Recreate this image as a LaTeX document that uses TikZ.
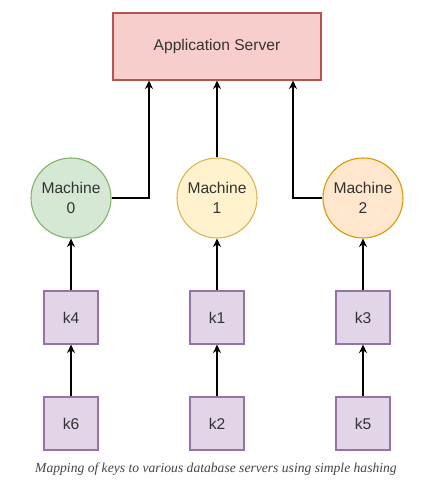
\documentclass[tikz,border=0pt]{standalone}
\usepackage{fontspec}
\setmainfont{Liberation Sans}
\newfontfamily\captionfont{Liberation Serif}
\usepackage{xcolor}
\usetikzlibrary{arrows.meta,positioning}
\definecolor{serverFill}{HTML}{F8CECC}
\definecolor{serverLine}{HTML}{B85450}
\definecolor{greenFill}{HTML}{D5E8D4}
\definecolor{greenLine}{HTML}{82B366}
\definecolor{yellowFill}{HTML}{FFF2CC}
\definecolor{yellowLine}{HTML}{D6B656}
\definecolor{orangeFill}{HTML}{FFE6CC}
\definecolor{orangeLine}{HTML}{D79B00}
\definecolor{keyFill}{HTML}{E1D5E7}
\definecolor{keyLine}{HTML}{9673A6}
\definecolor{textGray}{HTML}{333333}
\definecolor{captionGray}{HTML}{444444}

\begin{document}
\begin{tikzpicture}[
    x=1pt, y=-1pt,
    every node/.style={font=\fontsize{15.6}{19.5}\selectfont, text=textGray},
    server/.style={rectangle, draw=serverLine, fill=serverFill, line width=1.1pt,
        minimum width=208pt, minimum height=67pt},
    machine/.style={circle, line width=1.1pt, minimum size=80pt, align=center, inner sep=0pt},
    keybox/.style={rectangle, draw=keyLine, fill=keyFill, line width=1.1pt,
        minimum width=54pt, minimum height=53pt},
    arrow/.style={-{Stealth[length=8.5pt, width=8pt]}, line width=1.2pt, black},
    ]
    \useasboundingbox (0,0) rectangle (420,489);
    % Server
    \node[server] (server) at (217,46.5) {Application Server};
    % Machines
    \node[machine, draw=greenLine,  fill=greenFill]  (m0) at (71,198)  {Machine\\0};
    \node[machine, draw=yellowLine, fill=yellowFill] (m1) at (217,198) {Machine\\1};
    \node[machine, draw=orangeLine, fill=orangeFill] (m2) at (363,198) {Machine\\2};
    % Keys
    \node[keybox] (k4) at (71,317.5)  {k4};
    \node[keybox] (k1) at (217,317.5) {k1};
    \node[keybox] (k3) at (363,317.5) {k3};
    \node[keybox] (k6) at (71,423.5)  {k6};
    \node[keybox] (k2) at (217,423.5) {k2};
    \node[keybox] (k5) at (363,423.5) {k5};
    % Arrows
    \draw[arrow] (k6) -- (k4);
    \draw[arrow] (k2) -- (k1);
    \draw[arrow] (k5) -- (k3);
    \draw[arrow] (k4) -- (m0);
    \draw[arrow] (k1) -- (m1);
    \draw[arrow] (k3) -- (m2);
    \draw[arrow] (m1) -- (server);
    \draw[arrow] (m0.east) -| ([xshift=-68pt]server.south);
    \draw[arrow] (m2.west) -| ([xshift=76pt]server.south);
    % Caption
    \node[font=\captionfont\itshape\fontsize{13.6}{16}\selectfont, text=captionGray]
      (caption) at (216,469) {Mapping of keys to various database servers using simple hashing};
\end{tikzpicture}
\end{document}
